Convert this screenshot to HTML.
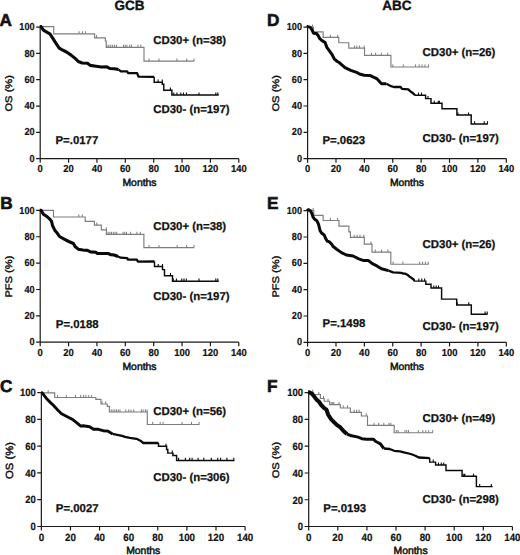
<!DOCTYPE html>
<html><head><meta charset="utf-8"><title>Kaplan-Meier curves</title>
<style>
html,body{margin:0;padding:0;background:#fff;}
body{width:520px;height:555px;overflow:hidden;}
svg{display:block;}
text{font-family:"Liberation Sans", sans-serif;fill:#111;text-rendering:geometricPrecision;}
.b{font-weight:bold;}
</style></head><body>
<svg width="520" height="555" viewBox="0 0 520 555">
<rect width="520" height="555" fill="#fff"/>
<text class="b" x="129.4" y="10" font-size="13.5" text-anchor="middle" stroke="#111" stroke-width="0.35">GCB</text>
<text class="b" x="396.9" y="10" font-size="13.5" text-anchor="middle" stroke="#111" stroke-width="0.35">ABC</text>
<text class="b" x="-0.4" y="25.7" font-size="17.2" stroke="#111" stroke-width="0.6">A</text>
<text class="b" x="0.2" y="209" font-size="17.2" stroke="#111" stroke-width="0.6">B</text>
<text class="b" x="0.1" y="392" font-size="17.2" stroke="#111" stroke-width="0.6">C</text>
<text class="b" x="266.9" y="25.8" font-size="17.2" stroke="#111" stroke-width="0.6">D</text>
<text class="b" x="266.9" y="209.2" font-size="17.2" stroke="#111" stroke-width="0.6">E</text>
<text class="b" x="266.9" y="392" font-size="17.2" stroke="#111" stroke-width="0.6">F</text>
<g>
<path d="M40.2,27.1 V158.65 H238.8 M36.1,158.65 H40.2 M36.1,132.34 H40.2 M36.1,106.03 H40.2 M36.1,79.72 H40.2 M36.1,53.41 H40.2 M36.1,27.1 H40.2 M40.2,158.65 V162.75 M68.57,158.65 V162.75 M96.94,158.65 V162.75 M125.31,158.65 V162.75 M153.69,158.65 V162.75 M182.06,158.65 V162.75 M210.43,158.65 V162.75 M238.8,158.65 V162.75" fill="none" stroke="#1a1a1a" stroke-width="1.2"/>
<text class="b" transform="translate(34.6 161.79) scale(0.9 1)" font-size="10.17" text-anchor="end" stroke="#111" stroke-width="0.2">0</text>
<text class="b" transform="translate(34.6 135.48) scale(0.9 1)" font-size="10.17" text-anchor="end" stroke="#111" stroke-width="0.2">20</text>
<text class="b" transform="translate(34.6 109.17) scale(0.9 1)" font-size="10.17" text-anchor="end" stroke="#111" stroke-width="0.2">40</text>
<text class="b" transform="translate(34.6 82.86) scale(0.9 1)" font-size="10.17" text-anchor="end" stroke="#111" stroke-width="0.2">60</text>
<text class="b" transform="translate(34.6 56.55) scale(0.9 1)" font-size="10.17" text-anchor="end" stroke="#111" stroke-width="0.2">80</text>
<text class="b" transform="translate(34.6 30.24) scale(0.9 1)" font-size="10.17" text-anchor="end" stroke="#111" stroke-width="0.2">100</text>
<text class="b" transform="translate(40.2 171.98) scale(0.93 1)" font-size="10.17" text-anchor="middle" stroke="#111" stroke-width="0.2">0</text>
<text class="b" transform="translate(68.57 171.98) scale(0.93 1)" font-size="10.17" text-anchor="middle" stroke="#111" stroke-width="0.2">20</text>
<text class="b" transform="translate(96.94 171.98) scale(0.93 1)" font-size="10.17" text-anchor="middle" stroke="#111" stroke-width="0.2">40</text>
<text class="b" transform="translate(125.31 171.98) scale(0.93 1)" font-size="10.17" text-anchor="middle" stroke="#111" stroke-width="0.2">60</text>
<text class="b" transform="translate(153.69 171.98) scale(0.93 1)" font-size="10.17" text-anchor="middle" stroke="#111" stroke-width="0.2">80</text>
<text class="b" transform="translate(182.06 171.98) scale(0.93 1)" font-size="10.17" text-anchor="middle" stroke="#111" stroke-width="0.2">100</text>
<text class="b" transform="translate(210.43 171.98) scale(0.93 1)" font-size="10.17" text-anchor="middle" stroke="#111" stroke-width="0.2">120</text>
<text class="b" transform="translate(238.8 171.98) scale(0.93 1)" font-size="10.17" text-anchor="middle" stroke="#111" stroke-width="0.2">140</text>
<text x="0" y="0" font-size="10.6" text-anchor="middle" stroke="#111" stroke-width="0.45" transform="translate(11.9 93.3) rotate(-90) scale(1.05 0.9)">OS (%)</text>
<text x="139.5" y="186" font-size="10.4" text-anchor="middle" stroke="#111" stroke-width="0.5">Months</text>
<path d="M39.7,26.6 H53.7 V33.8 H94.6 V37.8 H105.3 V41 H106.2 V47.3 H144 V61.1 H194.2" fill="none" stroke="#7d7d7d" stroke-width="1.15"/>
<path d="M79,33.8 v-2.6 M82.4,33.8 v-2.6 M85.3,33.8 v-2.6 M96.5,37.8 v-2.6 M106.9,47.3 v-2.6 M108.8,47.3 v-2.6 M110.8,47.3 v-2.6 M112.7,47.3 v-2.6 M114.6,47.3 v-2.6 M116.5,47.3 v-2.6 M123.5,47.3 v-2.6 M125.2,47.3 v-2.6 M126.9,47.3 v-2.6 M129.8,47.3 v-2.6 M131.5,47.3 v-2.6 M137.9,47.3 v-2.6 M140.8,47.3 v-2.6 M149,61.1 v-2.6 M159,61.1 v-2.6 M176.9,61.1 v-2.6 M186.7,61.1 v-2.6 M194,61.1 v-2.6" fill="none" stroke="#7d7d7d" stroke-width="1"/>
<polyline points="39.7,26.6 41.1,26.6 43.4,30.1 47.2,32.4 49.9,33.9 52.2,37.4 55.7,42.8 59.2,48.2 61.8,49.7 66.5,52 71.1,55.1 75.7,58.9 78.3,61.5 82.2,63 87.5,63.2 90.2,65.4 96,66.2 101.4,67 106.8,66.8 109.8,68.5 114.5,68.8 118.6,69.6" fill="none" stroke="#0a0a0a" stroke-width="3.1" stroke-linejoin="round"/>
<polyline points="118.6,69.6 120.9,71.4 127.1,71.4 128.2,73.1 137.1,73.1 138.6,76.7 154.2,76.9" fill="none" stroke="#0a0a0a" stroke-width="2.3" stroke-linejoin="round"/>
<path d="M154.2,76.9 V82.2 H162.3 V84.3 H163.8 V90.2 H171.9 V95 H218.7" fill="none" stroke="#0a0a0a" stroke-width="1.45"/>
<path d="M158.1,82.2 v-2.6 M162.3,82.2 v-2.6 M170.4,90.2 v-2.6 M173.8,95 v-2.6 M176.9,95 v-2.6 M180.8,95 v-2.6 M183.5,95 v-2.6 M186.5,95 v-2.6 M199,95 v-2.6 M215.8,95 v-2.6 M217.8,95 v-2.6" fill="none" stroke="#0a0a0a" stroke-width="1.1"/>
<text class="b" x="153.3" y="44.1" font-size="11.4" stroke="#111" stroke-width="0.25">CD30+ (n=38)</text>
<text class="b" x="153.3" y="112.8" font-size="11.4" stroke="#111" stroke-width="0.25">CD30- (n=197)</text>
<text class="b" x="55.5" y="143.8" font-size="11.4" stroke="#111" stroke-width="0.25">P=.0177</text>
</g>
<g>
<path d="M40.2,210.4 V342.2 H238.8 M36.1,342.2 H40.2 M36.1,315.84 H40.2 M36.1,289.48 H40.2 M36.1,263.12 H40.2 M36.1,236.76 H40.2 M36.1,210.4 H40.2 M40.2,342.2 V346.3 M68.57,342.2 V346.3 M96.94,342.2 V346.3 M125.31,342.2 V346.3 M153.69,342.2 V346.3 M182.06,342.2 V346.3 M210.43,342.2 V346.3 M238.8,342.2 V346.3" fill="none" stroke="#1a1a1a" stroke-width="1.2"/>
<text class="b" transform="translate(34.6 345.34) scale(0.9 1)" font-size="10.17" text-anchor="end" stroke="#111" stroke-width="0.2">0</text>
<text class="b" transform="translate(34.6 318.98) scale(0.9 1)" font-size="10.17" text-anchor="end" stroke="#111" stroke-width="0.2">20</text>
<text class="b" transform="translate(34.6 292.62) scale(0.9 1)" font-size="10.17" text-anchor="end" stroke="#111" stroke-width="0.2">40</text>
<text class="b" transform="translate(34.6 266.26) scale(0.9 1)" font-size="10.17" text-anchor="end" stroke="#111" stroke-width="0.2">60</text>
<text class="b" transform="translate(34.6 239.9) scale(0.9 1)" font-size="10.17" text-anchor="end" stroke="#111" stroke-width="0.2">80</text>
<text class="b" transform="translate(34.6 213.54) scale(0.9 1)" font-size="10.17" text-anchor="end" stroke="#111" stroke-width="0.2">100</text>
<text class="b" transform="translate(40.2 355.53) scale(0.93 1)" font-size="10.17" text-anchor="middle" stroke="#111" stroke-width="0.2">0</text>
<text class="b" transform="translate(68.57 355.53) scale(0.93 1)" font-size="10.17" text-anchor="middle" stroke="#111" stroke-width="0.2">20</text>
<text class="b" transform="translate(96.94 355.53) scale(0.93 1)" font-size="10.17" text-anchor="middle" stroke="#111" stroke-width="0.2">40</text>
<text class="b" transform="translate(125.31 355.53) scale(0.93 1)" font-size="10.17" text-anchor="middle" stroke="#111" stroke-width="0.2">60</text>
<text class="b" transform="translate(153.69 355.53) scale(0.93 1)" font-size="10.17" text-anchor="middle" stroke="#111" stroke-width="0.2">80</text>
<text class="b" transform="translate(182.06 355.53) scale(0.93 1)" font-size="10.17" text-anchor="middle" stroke="#111" stroke-width="0.2">100</text>
<text class="b" transform="translate(210.43 355.53) scale(0.93 1)" font-size="10.17" text-anchor="middle" stroke="#111" stroke-width="0.2">120</text>
<text class="b" transform="translate(238.8 355.53) scale(0.93 1)" font-size="10.17" text-anchor="middle" stroke="#111" stroke-width="0.2">140</text>
<text x="0" y="0" font-size="10.6" text-anchor="middle" stroke="#111" stroke-width="0.45" transform="translate(11.9 276.6) rotate(-90) scale(1.05 0.9)">PFS (%)</text>
<text x="139.5" y="369.5" font-size="10.4" text-anchor="middle" stroke="#111" stroke-width="0.5">Months</text>
<path d="M39.7,210.4 H53.5 V217 H85.2 V221.3 H94.4 V225.1 H101.3 V229.9 H106.4 V234.4 H143.9 V247.6 H194.2" fill="none" stroke="#7d7d7d" stroke-width="1.15"/>
<path d="M78.8,217 v-2.6 M82.3,217 v-2.6 M96.7,225.1 v-2.6 M106.4,229.9 v-2.6 M108.1,234.4 v-2.6 M109.8,234.4 v-2.6 M111.5,234.4 v-2.6 M113.3,234.4 v-2.6 M115,234.4 v-2.6 M116.7,234.4 v-2.6 M123.1,234.4 v-2.6 M124.8,234.4 v-2.6 M126.5,234.4 v-2.6 M130.6,234.4 v-2.6 M136.9,234.4 v-2.6 M140.4,234.4 v-2.6 M149,247.6 v-2.6 M159,247.6 v-2.6 M177.2,247.6 v-2.6 M186.7,247.6 v-2.6 M194,247.6 v-2.6" fill="none" stroke="#7d7d7d" stroke-width="1"/>
<polyline points="39.7,210.4 41.1,210.4 43.4,214.2 46.5,216.2 49.5,218.8 51.5,221.2 52.6,225.8 54.9,230.4 57.2,233.1 59.5,236.5 64.2,239.2 68.8,241.5 73.4,243.5 75.1,246.5 78.2,249.2 82.8,250 87.4,250.4 90.5,251.9 95.8,252.3 97.4,253.5 108.2,253.5 110.5,254.6 114.2,255 118,256.5" fill="none" stroke="#0a0a0a" stroke-width="3.1" stroke-linejoin="round"/>
<polyline points="118,256.5 120.7,257.7 127.2,258.1 128,259.6 136.8,259.6 138,261.6 154.5,261.5" fill="none" stroke="#0a0a0a" stroke-width="2.3" stroke-linejoin="round"/>
<path d="M154.5,261.5 V266.5 H162.5 V269.6 H164.5 V275.7 H172.5 V281.2 H218.7" fill="none" stroke="#0a0a0a" stroke-width="1.45"/>
<path d="M158.3,266.5 v-2.6 M162.5,266.5 v-2.6 M170.5,275.7 v-2.6 M173.3,281.2 v-2.6 M176.4,281.2 v-2.6 M181.8,281.2 v-2.6 M184,281.2 v-2.6 M186.3,281.2 v-2.6 M199,281.2 v-2.6 M215.8,281.2 v-2.6 M217.8,281.2 v-2.6" fill="none" stroke="#0a0a0a" stroke-width="1.1"/>
<text class="b" x="153.3" y="229.8" font-size="11.4" stroke="#111" stroke-width="0.25">CD30+ (n=38)</text>
<text class="b" x="153.3" y="300" font-size="11.4" stroke="#111" stroke-width="0.25">CD30- (n=197)</text>
<text class="b" x="55.8" y="327.8" font-size="11.4" stroke="#111" stroke-width="0.25">P=.0188</text>
</g>
<g>
<path d="M41.35,392.6 V526.5 H245.1 M37.25,526.5 H41.35 M37.25,499.72 H41.35 M37.25,472.94 H41.35 M37.25,446.16 H41.35 M37.25,419.38 H41.35 M37.25,392.6 H41.35 M41.35,526.5 V530.6 M70.46,526.5 V530.6 M99.56,526.5 V530.6 M128.67,526.5 V530.6 M157.78,526.5 V530.6 M186.89,526.5 V530.6 M215.99,526.5 V530.6 M245.1,526.5 V530.6" fill="none" stroke="#1a1a1a" stroke-width="1.2"/>
<text class="b" transform="translate(35.75 530.26) scale(0.9 1)" font-size="10.51" text-anchor="end" stroke="#111" stroke-width="0.2">0</text>
<text class="b" transform="translate(35.75 503.48) scale(0.9 1)" font-size="10.51" text-anchor="end" stroke="#111" stroke-width="0.2">20</text>
<text class="b" transform="translate(35.75 476.7) scale(0.9 1)" font-size="10.51" text-anchor="end" stroke="#111" stroke-width="0.2">40</text>
<text class="b" transform="translate(35.75 449.92) scale(0.9 1)" font-size="10.51" text-anchor="end" stroke="#111" stroke-width="0.2">60</text>
<text class="b" transform="translate(35.75 423.14) scale(0.9 1)" font-size="10.51" text-anchor="end" stroke="#111" stroke-width="0.2">80</text>
<text class="b" transform="translate(35.75 396.36) scale(0.9 1)" font-size="10.51" text-anchor="end" stroke="#111" stroke-width="0.2">100</text>
<text class="b" transform="translate(41.35 540.68) scale(0.93 1)" font-size="10.51" text-anchor="middle" stroke="#111" stroke-width="0.2">0</text>
<text class="b" transform="translate(70.46 540.68) scale(0.93 1)" font-size="10.51" text-anchor="middle" stroke="#111" stroke-width="0.2">20</text>
<text class="b" transform="translate(99.56 540.68) scale(0.93 1)" font-size="10.51" text-anchor="middle" stroke="#111" stroke-width="0.2">40</text>
<text class="b" transform="translate(128.67 540.68) scale(0.93 1)" font-size="10.51" text-anchor="middle" stroke="#111" stroke-width="0.2">60</text>
<text class="b" transform="translate(157.78 540.68) scale(0.93 1)" font-size="10.51" text-anchor="middle" stroke="#111" stroke-width="0.2">80</text>
<text class="b" transform="translate(186.89 540.68) scale(0.93 1)" font-size="10.51" text-anchor="middle" stroke="#111" stroke-width="0.2">100</text>
<text class="b" transform="translate(215.99 540.68) scale(0.93 1)" font-size="10.51" text-anchor="middle" stroke="#111" stroke-width="0.2">120</text>
<text class="b" transform="translate(245.1 540.68) scale(0.93 1)" font-size="10.51" text-anchor="middle" stroke="#111" stroke-width="0.2">140</text>
<text x="0" y="0" font-size="10.7" text-anchor="middle" stroke="#111" stroke-width="0.45" transform="translate(13.1 460.5) rotate(-90) scale(1.05 0.97)">OS (%)</text>
<text x="143.22" y="554.2" font-size="10.4" text-anchor="middle" stroke="#111" stroke-width="0.5">Months</text>
<path d="M41.1,392.8 H54.7 V397.5 H95.8 V399.4 H101 V404 H107.3 V406.3 H109.4 V412 H147.3 V424.5 H199.4" fill="none" stroke="#7d7d7d" stroke-width="1.15"/>
<path d="M48.2,392.8 v-2.6 M57.6,397.5 v-2.6 M66.3,397.5 v-2.6 M75.5,397.5 v-2.6 M80.7,397.5 v-2.6 M83.6,397.5 v-2.6 M85.9,397.5 v-2.6 M88.8,397.5 v-2.6 M91.7,397.5 v-2.6 M102.1,404 v-2.6 M105.6,404 v-2.6 M111.3,412 v-2.6 M113.1,412 v-2.6 M114.8,412 v-2.6 M116.5,412 v-2.6 M118.3,412 v-2.6 M120,412 v-2.6 M125.8,412 v-2.6 M128.7,412 v-2.6 M131,412 v-2.6 M133.8,412 v-2.6 M141.3,412 v-2.6 M143.1,412 v-2.6 M145.4,412 v-2.6 M147.1,412 v-2.6 M152.7,424.5 v-2.6 M160.2,424.5 v-2.6 M163.1,424.5 v-2.6 M182.1,424.5 v-2.6 M191.5,424.5 v-2.6 M199,424.5 v-2.6" fill="none" stroke="#7d7d7d" stroke-width="1"/>
<polyline points="41.1,392.6 42,392.6 47.2,399.3 50.5,402.6 53.1,405 57.7,410 61.5,413.8 65.4,415.8 69.2,417.7 73.1,419.8 76.9,422.8 80.8,426.1 83.1,425.8 89.6,426.7 93.5,429.3 98.3,429.3 103.1,430.7 107.7,431.1 112.5,433.9" fill="none" stroke="#0a0a0a" stroke-width="2.9" stroke-linejoin="round"/>
<polyline points="112.5,433.9 122.1,435.9 125,436.8 129.8,437.8 136.5,438.8 140.4,440.7 143.3,443 158.5,443" fill="none" stroke="#0a0a0a" stroke-width="2.3" stroke-linejoin="round"/>
<path d="M158.5,443 V446.2 H166.6 V449.5 H167.8 V453.1 H172.9 V455.5 H176.6 V460.4 H234.4" fill="none" stroke="#0a0a0a" stroke-width="1.45"/>
<path d="M166,446.3 v-2.6 M172.3,453.1 v-2.6 M178.6,460.4 v-2.6 M185.4,460.4 v-2.6 M189.7,460.4 v-2.6 M192.1,460.4 v-2.6 M198.1,460.4 v-2.6 M203.8,460.4 v-2.6 M211.3,460.4 v-2.6 M217.7,460.4 v-2.6 M220.6,460.4 v-2.6 M226.9,460.4 v-2.6 M233.8,460.4 v-2.6" fill="none" stroke="#0a0a0a" stroke-width="1.1"/>
<text class="b" x="153.3" y="414.8" font-size="11.4" stroke="#111" stroke-width="0.25">CD30+ (n=56)</text>
<text class="b" x="153.3" y="480.6" font-size="11.4" stroke="#111" stroke-width="0.25">CD30- (n=306)</text>
<text class="b" x="55.8" y="511.6" font-size="11.4" stroke="#111" stroke-width="0.25">P=.0027</text>
</g>
<g>
<path d="M307.6,27.1 V158.6 H506.3 M303.5,158.6 H307.6 M303.5,132.3 H307.6 M303.5,106 H307.6 M303.5,79.7 H307.6 M303.5,53.4 H307.6 M303.5,27.1 H307.6 M307.6,158.6 V162.7 M335.99,158.6 V162.7 M364.37,158.6 V162.7 M392.76,158.6 V162.7 M421.14,158.6 V162.7 M449.53,158.6 V162.7 M477.91,158.6 V162.7 M506.3,158.6 V162.7" fill="none" stroke="#1a1a1a" stroke-width="1.2"/>
<text class="b" transform="translate(302 161.74) scale(0.9 1)" font-size="10.17" text-anchor="end" stroke="#111" stroke-width="0.2">0</text>
<text class="b" transform="translate(302 135.44) scale(0.9 1)" font-size="10.17" text-anchor="end" stroke="#111" stroke-width="0.2">20</text>
<text class="b" transform="translate(302 109.14) scale(0.9 1)" font-size="10.17" text-anchor="end" stroke="#111" stroke-width="0.2">40</text>
<text class="b" transform="translate(302 82.84) scale(0.9 1)" font-size="10.17" text-anchor="end" stroke="#111" stroke-width="0.2">60</text>
<text class="b" transform="translate(302 56.54) scale(0.9 1)" font-size="10.17" text-anchor="end" stroke="#111" stroke-width="0.2">80</text>
<text class="b" transform="translate(302 30.24) scale(0.9 1)" font-size="10.17" text-anchor="end" stroke="#111" stroke-width="0.2">100</text>
<text class="b" transform="translate(307.6 171.93) scale(0.93 1)" font-size="10.17" text-anchor="middle" stroke="#111" stroke-width="0.2">0</text>
<text class="b" transform="translate(335.99 171.93) scale(0.93 1)" font-size="10.17" text-anchor="middle" stroke="#111" stroke-width="0.2">20</text>
<text class="b" transform="translate(364.37 171.93) scale(0.93 1)" font-size="10.17" text-anchor="middle" stroke="#111" stroke-width="0.2">40</text>
<text class="b" transform="translate(392.76 171.93) scale(0.93 1)" font-size="10.17" text-anchor="middle" stroke="#111" stroke-width="0.2">60</text>
<text class="b" transform="translate(421.14 171.93) scale(0.93 1)" font-size="10.17" text-anchor="middle" stroke="#111" stroke-width="0.2">80</text>
<text class="b" transform="translate(449.53 171.93) scale(0.93 1)" font-size="10.17" text-anchor="middle" stroke="#111" stroke-width="0.2">100</text>
<text class="b" transform="translate(477.91 171.93) scale(0.93 1)" font-size="10.17" text-anchor="middle" stroke="#111" stroke-width="0.2">120</text>
<text class="b" transform="translate(506.3 171.93) scale(0.93 1)" font-size="10.17" text-anchor="middle" stroke="#111" stroke-width="0.2">140</text>
<text x="0" y="0" font-size="10.6" text-anchor="middle" stroke="#111" stroke-width="0.45" transform="translate(278.9 93.3) rotate(-90) scale(1.05 0.9)">OS (%)</text>
<text x="406.95" y="186" font-size="10.4" text-anchor="middle" stroke="#111" stroke-width="0.5">Months</text>
<path d="M307.3,27.2 H313.5 V31.8 H323.1 V37.3 H338.8 V42.7 H348.8 V48.1 H364.5 V55.4 H390.9 V67 H429" fill="none" stroke="#7d7d7d" stroke-width="1.15"/>
<path d="M312.5,27.2 v-2.6 M330.4,37.3 v-2.6 M337.7,37.3 v-2.6 M354.6,48.1 v-2.6 M356.9,48.1 v-2.6 M359.6,48.1 v-2.6 M364.2,48.1 v-2.6 M371.5,55.4 v-2.6 M375.6,55.4 v-2.6 M381.3,55.4 v-2.6 M387.7,55.4 v-2.6 M392.9,67 v-2.6 M403.3,67 v-2.6 M415.6,67 v-2.6 M419.2,67 v-2.6 M422.1,67 v-2.6 M425,67 v-2.6 M428.6,67 v-2.6" fill="none" stroke="#7d7d7d" stroke-width="1"/>
<polyline points="307.3,27.2 307.7,26.6 310.4,27.4 311.9,29.7 313.5,33.2 316.5,33.5 318.1,35.5 320,38.9 322.7,41.2 325,42.4 326.9,47.4 329.6,51.2 331.9,54.3 334.2,58.8 337.3,61.5 339,62.3 342.7,65.6 345,67.6 350.8,70.4 356.5,72.3 359.4,74 364.2,75.2 370,75.4 372.4,76.6 376.7,78.6 381.5,83.8 386.3,83.8" fill="none" stroke="#0a0a0a" stroke-width="3.0" stroke-linejoin="round"/>
<polyline points="386.3,83.8 390.2,85.8 393.8,87 400.6,87 402,88.9 408.3,89.4 410.2,91.3 413.1,93.3 415,95.2" fill="none" stroke="#0a0a0a" stroke-width="2.3" stroke-linejoin="round"/>
<path d="M415,95.2 H425.6 V98.6 H431 V103.3 H442 V108.7 H456.9 V115 H471.2 V123.9 H487.8" fill="none" stroke="#0a0a0a" stroke-width="1.45"/>
<path d="M418.5,95.2 v-2.6 M421.5,95.2 v-2.6 M428,98.6 v-2.6 M434.3,103.3 v-2.6 M438.2,103.3 v-2.6 M439.4,103.3 v-2.6 M457.9,115 v-2.6 M468.5,115 v-2.6 M474.6,123.8 v-2.6 M484.2,123.8 v-2.6 M487.5,123.8 v-2.6" fill="none" stroke="#0a0a0a" stroke-width="1.1"/>
<text class="b" x="422.6" y="56" font-size="11.4" stroke="#111" stroke-width="0.25">CD30+ (n=26)</text>
<text class="b" x="422.6" y="141.9" font-size="11.4" stroke="#111" stroke-width="0.25">CD30- (n=197)</text>
<text class="b" x="322.4" y="143.7" font-size="11.4" stroke="#111" stroke-width="0.25">P=.0623</text>
</g>
<g>
<path d="M307.6,210.7 V342.3 H506.3 M303.5,342.3 H307.6 M303.5,315.98 H307.6 M303.5,289.66 H307.6 M303.5,263.34 H307.6 M303.5,237.02 H307.6 M303.5,210.7 H307.6 M307.6,342.3 V346.4 M335.99,342.3 V346.4 M364.37,342.3 V346.4 M392.76,342.3 V346.4 M421.14,342.3 V346.4 M449.53,342.3 V346.4 M477.91,342.3 V346.4 M506.3,342.3 V346.4" fill="none" stroke="#1a1a1a" stroke-width="1.2"/>
<text class="b" transform="translate(302 345.44) scale(0.9 1)" font-size="10.17" text-anchor="end" stroke="#111" stroke-width="0.2">0</text>
<text class="b" transform="translate(302 319.12) scale(0.9 1)" font-size="10.17" text-anchor="end" stroke="#111" stroke-width="0.2">20</text>
<text class="b" transform="translate(302 292.8) scale(0.9 1)" font-size="10.17" text-anchor="end" stroke="#111" stroke-width="0.2">40</text>
<text class="b" transform="translate(302 266.48) scale(0.9 1)" font-size="10.17" text-anchor="end" stroke="#111" stroke-width="0.2">60</text>
<text class="b" transform="translate(302 240.16) scale(0.9 1)" font-size="10.17" text-anchor="end" stroke="#111" stroke-width="0.2">80</text>
<text class="b" transform="translate(302 213.84) scale(0.9 1)" font-size="10.17" text-anchor="end" stroke="#111" stroke-width="0.2">100</text>
<text class="b" transform="translate(307.6 355.63) scale(0.93 1)" font-size="10.17" text-anchor="middle" stroke="#111" stroke-width="0.2">0</text>
<text class="b" transform="translate(335.99 355.63) scale(0.93 1)" font-size="10.17" text-anchor="middle" stroke="#111" stroke-width="0.2">20</text>
<text class="b" transform="translate(364.37 355.63) scale(0.93 1)" font-size="10.17" text-anchor="middle" stroke="#111" stroke-width="0.2">40</text>
<text class="b" transform="translate(392.76 355.63) scale(0.93 1)" font-size="10.17" text-anchor="middle" stroke="#111" stroke-width="0.2">60</text>
<text class="b" transform="translate(421.14 355.63) scale(0.93 1)" font-size="10.17" text-anchor="middle" stroke="#111" stroke-width="0.2">80</text>
<text class="b" transform="translate(449.53 355.63) scale(0.93 1)" font-size="10.17" text-anchor="middle" stroke="#111" stroke-width="0.2">100</text>
<text class="b" transform="translate(477.91 355.63) scale(0.93 1)" font-size="10.17" text-anchor="middle" stroke="#111" stroke-width="0.2">120</text>
<text class="b" transform="translate(506.3 355.63) scale(0.93 1)" font-size="10.17" text-anchor="middle" stroke="#111" stroke-width="0.2">140</text>
<text x="0" y="0" font-size="10.6" text-anchor="middle" stroke="#111" stroke-width="0.45" transform="translate(279.1 276.6) rotate(-90) scale(1.05 0.9)">PFS (%)</text>
<text x="406.95" y="369.5" font-size="10.4" text-anchor="middle" stroke="#111" stroke-width="0.5">Months</text>
<path d="M307.3,210.5 H313.8 V215.4 H323.1 V220.5 H339 V226.1 H348.9 V231.8 H350.4 V237.3 H364.3 V244.1 H372 V252.1 H390.8 V264.2 H428.7" fill="none" stroke="#7d7d7d" stroke-width="1.15"/>
<path d="M313.1,210.5 v-2.6 M330.4,220.5 v-2.6 M337.6,220.5 v-2.6 M354.2,237.3 v-2.6 M357.1,237.3 v-2.6 M360,237.3 v-2.6 M363.8,237.3 v-2.6 M371,244.1 v-2.6 M375.3,252.1 v-2.6 M381.5,252.1 v-2.6 M387.9,252.1 v-2.6 M393.1,264.2 v-2.6 M402.9,264.2 v-2.6 M419.6,264.2 v-2.6 M422.5,264.2 v-2.6 M425.4,264.2 v-2.6 M428.3,264.2 v-2.6" fill="none" stroke="#7d7d7d" stroke-width="1"/>
<polyline points="307.3,210.7 308.1,209.7 310.4,210.7 311.9,213.5 313.1,217.3 315,219.6 316.9,220.8 318.5,224.2 320,230.4 321.5,233.1 324.2,235 325.8,238.8 327.3,241.2 329.6,242 331.9,244.6 332.9,246.3 336.7,249.2 341.5,252.6 346.3,255 353.1,256 358.8,258.9 363.7,260.6 368.5,260.6 372.3,263.7 376.9,265.9 381.5,268.8 388.5,270.6" fill="none" stroke="#0a0a0a" stroke-width="3.0" stroke-linejoin="round"/>
<polyline points="388.5,270.6 393.1,272.3 401.2,272.9 403.5,273.6 405,273.6 408.1,275.3 409.6,276.6 413.7,279.5 414.2,281.1" fill="none" stroke="#0a0a0a" stroke-width="2.3" stroke-linejoin="round"/>
<path d="M414.2,281.1 H425.8 V284.2 H431 V288 H441.6 V299.1 H456.7 V304.9 H471.3 V314.2 H487.5" fill="none" stroke="#0a0a0a" stroke-width="1.45"/>
<path d="M418.8,281.1 v-2.6 M421.7,281.1 v-2.6 M424.6,281.1 v-2.6 M433.8,288 v-2.6 M436.2,288 v-2.6 M438.5,288 v-2.6 M457.2,304.9 v-2.6 M468.8,304.9 v-2.6 M485.1,314.2 v-2.6 M487.2,314.2 v-2.6" fill="none" stroke="#0a0a0a" stroke-width="1.1"/>
<text class="b" x="422.6" y="247.9" font-size="11.4" stroke="#111" stroke-width="0.25">CD30+ (n=26)</text>
<text class="b" x="422.6" y="329.6" font-size="11.4" stroke="#111" stroke-width="0.25">CD30- (n=197)</text>
<text class="b" x="322.6" y="327.3" font-size="11.4" stroke="#111" stroke-width="0.25">P=.1498</text>
</g>
<g>
<path d="M308.7,392.7 V526.5 H512.4 M304.6,526.5 H308.7 M304.6,499.74 H308.7 M304.6,472.98 H308.7 M304.6,446.22 H308.7 M304.6,419.46 H308.7 M304.6,392.7 H308.7 M308.7,526.5 V530.6 M337.8,526.5 V530.6 M366.9,526.5 V530.6 M396,526.5 V530.6 M425.1,526.5 V530.6 M454.2,526.5 V530.6 M483.3,526.5 V530.6 M512.4,526.5 V530.6" fill="none" stroke="#1a1a1a" stroke-width="1.2"/>
<text class="b" transform="translate(303.1 530.26) scale(0.9 1)" font-size="10.51" text-anchor="end" stroke="#111" stroke-width="0.2">0</text>
<text class="b" transform="translate(303.1 503.5) scale(0.9 1)" font-size="10.51" text-anchor="end" stroke="#111" stroke-width="0.2">20</text>
<text class="b" transform="translate(303.1 476.74) scale(0.9 1)" font-size="10.51" text-anchor="end" stroke="#111" stroke-width="0.2">40</text>
<text class="b" transform="translate(303.1 449.98) scale(0.9 1)" font-size="10.51" text-anchor="end" stroke="#111" stroke-width="0.2">60</text>
<text class="b" transform="translate(303.1 423.22) scale(0.9 1)" font-size="10.51" text-anchor="end" stroke="#111" stroke-width="0.2">80</text>
<text class="b" transform="translate(303.1 396.46) scale(0.9 1)" font-size="10.51" text-anchor="end" stroke="#111" stroke-width="0.2">100</text>
<text class="b" transform="translate(308.7 540.68) scale(0.93 1)" font-size="10.51" text-anchor="middle" stroke="#111" stroke-width="0.2">0</text>
<text class="b" transform="translate(337.8 540.68) scale(0.93 1)" font-size="10.51" text-anchor="middle" stroke="#111" stroke-width="0.2">20</text>
<text class="b" transform="translate(366.9 540.68) scale(0.93 1)" font-size="10.51" text-anchor="middle" stroke="#111" stroke-width="0.2">40</text>
<text class="b" transform="translate(396 540.68) scale(0.93 1)" font-size="10.51" text-anchor="middle" stroke="#111" stroke-width="0.2">60</text>
<text class="b" transform="translate(425.1 540.68) scale(0.93 1)" font-size="10.51" text-anchor="middle" stroke="#111" stroke-width="0.2">80</text>
<text class="b" transform="translate(454.2 540.68) scale(0.93 1)" font-size="10.51" text-anchor="middle" stroke="#111" stroke-width="0.2">100</text>
<text class="b" transform="translate(483.3 540.68) scale(0.93 1)" font-size="10.51" text-anchor="middle" stroke="#111" stroke-width="0.2">120</text>
<text class="b" transform="translate(512.4 540.68) scale(0.93 1)" font-size="10.51" text-anchor="middle" stroke="#111" stroke-width="0.2">140</text>
<text x="0" y="0" font-size="10.6" text-anchor="middle" stroke="#111" stroke-width="0.45" transform="translate(278.9 460.1) rotate(-90) scale(1.05 0.9)">OS (%)</text>
<text x="410.55" y="554.2" font-size="10.4" text-anchor="middle" stroke="#111" stroke-width="0.5">Months</text>
<path d="M308,392.2 H313.5 V394.5 H320.4 V398.5 H324.2 V401.2 H329.6 V404.6 H340.3 V408 H350.4 V412.3 H361.4 V416 H367.5 V425.4 H394.2 V432.7 H432.9" fill="none" stroke="#7d7d7d" stroke-width="1.15"/>
<path d="M312.7,392.2 v-2.6 M318.8,394.5 v-2.6 M323.5,398.5 v-2.6 M328,401.2 v-2.6 M331.2,404.6 v-2.6 M332.7,404.6 v-2.6 M333.8,404.6 v-2.6 M339,404.6 v-2.6 M343.2,408 v-2.6 M347.5,408 v-2.6 M354.2,412.3 v-2.6 M356.6,412.3 v-2.6 M359,412.3 v-2.6 M366.3,416 v-2.6 M374,425.4 v-2.6 M378.7,425.4 v-2.6 M383.8,425.4 v-2.6 M389,425.4 v-2.6 M390.8,425.4 v-2.6 M396.3,432.7 v-2.6 M398.1,432.7 v-2.6 M405,432.7 v-2.6 M406.7,432.7 v-2.6 M408.5,432.7 v-2.6 M418.3,432.7 v-2.6 M422.9,432.7 v-2.6 M425.8,432.7 v-2.6 M428.7,432.7 v-2.6 M432.7,432.7 v-2.6" fill="none" stroke="#7d7d7d" stroke-width="1"/>
<polyline points="308,392.2 309.2,392.3 311.9,393.8 314.2,396.5 316.5,399.6 318.8,401.5 321.2,405 324.2,408.1 326.5,409.6 328.1,414.7 331.2,419.3 334.2,422.4 337.3,425.4 340,427 343.5,431 346.9,434" fill="none" stroke="#0a0a0a" stroke-width="4.0" stroke-linejoin="round"/>
<polyline points="346.9,434 351.5,435.8 357.3,436.9 361.9,438.7 366.5,439.2 373.5,439.2 375.8,441.5 380.4,443.8 383.8,448.5" fill="none" stroke="#0a0a0a" stroke-width="3.0" stroke-linejoin="round"/>
<polyline points="383.8,448.5 389.6,449 394.2,450.8 400,451.3 403.8,452.3 410.8,454 415.4,455.8 418.8,457.5 429.7,458.1" fill="none" stroke="#0a0a0a" stroke-width="2.3" stroke-linejoin="round"/>
<path d="M429.7,458.1 V462.1 H435.6 V465 H446 V470.5 H462.1 V476.3 H476.4 V486.6 H492.7" fill="none" stroke="#0a0a0a" stroke-width="1.45"/>
<path d="M433.3,462.1 v-2.6 M438.5,465 v-2.6 M441.3,465 v-2.6 M443.7,465 v-2.6 M463.8,476.3 v-2.6 M464.8,476.3 v-2.6 M473.5,476.3 v-2.6 M479.7,486.6 v-2.6 M491.3,486.6 v-2.6" fill="none" stroke="#0a0a0a" stroke-width="1.1"/>
<text class="b" x="422.6" y="421.5" font-size="11.4" stroke="#111" stroke-width="0.25">CD30+ (n=49)</text>
<text class="b" x="422.6" y="502.7" font-size="11.4" stroke="#111" stroke-width="0.25">CD30- (n=298)</text>
<text class="b" x="323.3" y="512.1" font-size="11.4" stroke="#111" stroke-width="0.25">P=.0193</text>
</g>
</svg>
</body></html>
